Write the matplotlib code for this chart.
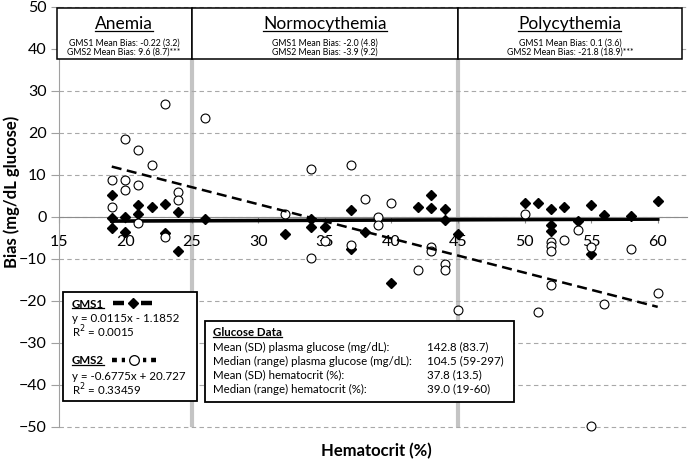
import numpy as np
import matplotlib
matplotlib.use('Agg')
import matplotlib.pyplot as plt
from matplotlib.patches import Rectangle
from matplotlib.lines import Line2D

plt.rcParams['font.family'] = ['Lato', 'DejaVu Sans']

# GMS1 (filled diamonds)
gms1_hct = [19, 19, 19, 20, 20, 21, 21, 22, 23, 23, 24, 24, 26,
            32, 34, 34, 35, 37, 37, 38, 40, 42, 43, 43, 44, 44, 45,
            50, 51, 52, 52, 52, 53, 54, 55, 55, 56, 58, 60]
gms1_bias = [5.2, -0.2, -2.7, 0.1, -3.5, 2.9, 0.7, 2.5, 3.0, -3.9, 1.1, -8.0, -0.5,
             -4.1, -0.5, -2.3, -2.3, 1.6, -7.7, -3.5, -15.8, 2.5, 5.2, 2.1, 1.8, -0.7, -4.0,
             3.4, 3.4, 1.8, -1.9, -3.3, 2.5, -0.9, 2.9, -8.8, 0.5, 0.3, 3.8]

# GMS2 (open circles)
gms2_hct = [19, 19, 20, 20, 20, 21, 21, 21, 22, 23, 23, 24, 24, 26,
            32, 34, 34, 35, 37, 37, 38, 39, 39, 40, 42, 43, 43, 44, 44, 45,
            50, 51, 52, 52, 52, 52, 53, 54, 55, 55, 56, 58, 60]
gms2_bias = [8.8, 2.5, 18.6, 8.8, 6.4, 16.0, 7.6, -1.5, 12.4, 27.0, -4.8, 6.0, 4.0, 23.5,
             0.7, 11.4, -9.8, -5.8, 12.4, -6.7, 4.4, 0.1, -1.9, 3.4, -12.5, -7.1, -8.0, -11.3, -12.5, -22.2,
             0.6, -22.5, -5.9, -6.9, -8.0, -16.2, -5.5, -3.1, -7.1, -49.8, -20.7, -7.6, -18.0]

# trend lines as drawn
trend_x = [19, 60]
gms1_trend = [0.0115 * 19 - 1.1852, 0.0115 * 60 - 1.1852]
gms2_trend = [12.0, -21.4]

# groups
groups = ['Anemia', 'Normocythemia', 'Polycythemia']
group_edges = [14.85, 25, 45, 61.8]
gms1_mean = ['-0.22 (3.2)', '-2.0 (4.8)', '0.1 (3.6)']
gms2_mean = ['9.6 (8.7)***', '-3.9 (9.2)', '-21.8 (18.9)***']

glucose_labels = ['Mean (SD) plasma glucose (mg/dL):',
                  'Median (range) plasma glucose (mg/dL):',
                  'Mean (SD) hematocrit (%):',
                  'Median (range) hematocrit (%):']
glucose_values = ['142.8 (83.7)', '104.5 (59-297)', '37.8 (13.5)', '39.0 (19-60)']

W, H = 690, 463
fig = plt.figure(figsize=(6.9, 4.63), dpi=100)
ax = fig.add_axes([58.5 / W, 1 - 429.1 / H, (687 - 58.5) / W, (429.1 - 4.9) / H])
ax.set_xlim(15, 62.2)
ax.set_ylim(-50.5, 50.5)


def px(x, y):
    return x / W, 1 - y / H


# axes styling
for s in ['top', 'right']:
    ax.spines[s].set_visible(False)
ax.spines['left'].set_color('#a0a0a0')
ax.spines['left'].set_bounds(-50, 50)
ax.spines['bottom'].set_position(('data', 0))
ax.spines['bottom'].set_color('#8c8c8c')
ax.set_yticks(np.arange(-50, 51, 10))
ax.set_xticks(np.arange(15, 61, 5))
ax.tick_params(axis='y', colors='#a0a0a0', labelcolor='black', labelsize=11.5, length=5.5, pad=3)
ax.tick_params(axis='x', colors='#8c8c8c', labelcolor='black', labelsize=11.5, length=4, pad=9)
for t in ax.get_xticklabels():
    t.set_zorder(4)
ax.grid(axis='y', color='#a8a8a8', ls=(0, (4, 3)), lw=0.8, zorder=0.5)

# grey boundaries
for xv in group_edges[1:3]:
    ax.plot([xv, xv], [-49.5, 37.6], color='#c4c4c4', lw=3, zorder=1)

# trend lines
ax.plot(trend_x, gms1_trend, color='black', lw=2.6, zorder=2)
ax.plot(gms1_hct, gms1_bias, 'D', color='black', ms=4.6, zorder=3, clip_on=False)
ax.plot(gms2_hct, gms2_bias, 'o', mfc='white', mec='black', mew=0.8, ms=6.4, zorder=3, clip_on=False)
ax.plot(trend_x, gms2_trend, color='black', lw=1.8, ls=(0, (4, 2.2)), zorder=3.5)

# top group boxes
underline_items = []
for i, g in enumerate(groups):
    x0, x1 = group_edges[i], group_edges[i + 1]
    ax.add_patch(Rectangle((x0, 37.6), x1 - x0, 12.2, facecolor='white', edgecolor='black',
                           lw=1.1, zorder=5, clip_on=False))
    xc = (x0 + x1) / 2
    t = ax.text(xc, 45.9, g, ha='center', va='center', fontsize=12.5, zorder=6)
    underline_items.append(t)
    ax.text(xc, 41.5, 'GMS1 Mean Bias: ' + gms1_mean[i], ha='center', va='center', fontsize=6.3, zorder=6)
    ax.text(xc, 39.3, 'GMS2 Mean Bias: ' + gms2_mean[i], ha='center', va='center', fontsize=6.3, zorder=6)

# regression legend box
fig.add_artist(Rectangle(px(63, 401), 134 / W, 109 / H, transform=fig.transFigure,
                         facecolor='white', edgecolor='black', lw=1.3, zorder=5))
t = fig.text(*px(72, 304), 'GMS1', fontsize=8.3, weight='bold', va='center', zorder=6)
underline_items.append(t)
fig.text(*px(72, 318), 'y = 0.0115x - 1.1852', fontsize=8.3, va='center', zorder=6)
fig.text(*px(72, 332), 'R$^2$ = 0.0015', fontsize=8.3, va='center', zorder=6)
t = fig.text(*px(72, 361), 'GMS2', fontsize=8.3, weight='bold', va='center', zorder=6)
underline_items.append(t)
fig.text(*px(72, 376), 'y = -0.6775x + 20.727', fontsize=8.3, va='center', zorder=6)
fig.text(*px(72, 390), 'R$^2$ = 0.33459', fontsize=8.3, va='center', zorder=6)

for seg in [(113, 124), (141, 152)]:
    fig.add_artist(Line2D([seg[0] / W, seg[1] / W], [1 - 303 / H] * 2, color='black', lw=3.2,
                          solid_capstyle='butt', zorder=6))
fig.add_artist(Line2D([133 / W], [1 - 303 / H], marker='D', color='black', ms=5.5, zorder=7))
fig.add_artist(Line2D([112 / W, 156 / W], [1 - 360 / H] * 2, color='black', lw=3.2,
                      ls=(0, (1.1, 1.1)), zorder=6))
fig.add_artist(Line2D([134 / W], [1 - 360 / H], marker='o', mfc='white', mec='black', mew=0.9,
                      ms=7, ls='none', zorder=7))
fig.add_artist(Rectangle(px(125, 366), 18 / W, 12 / H, transform=fig.transFigure,
                         facecolor='white', edgecolor='none', zorder=6.5))

# glucose data box
fig.add_artist(Rectangle(px(205, 402), 309 / W, 81 / H, transform=fig.transFigure,
                         facecolor='white', edgecolor='black', lw=1.3, zorder=5))
t = fig.text(*px(213, 333), 'Glucose Data', fontsize=8.3, weight='bold', va='center', zorder=6)
underline_items.append(t)
for k in range(len(glucose_labels)):
    yy = 347 + 14 * k
    fig.text(*px(213, yy), glucose_labels[k], fontsize=8.3, va='center', zorder=6)
    fig.text(*px(427, yy), glucose_values[k], fontsize=8.3, va='center', zorder=6)

# axis labels
fig.text(*px(12, 192), 'Bias (mg/dL glucose)', rotation=90, ha='center', va='center',
         fontsize=12, weight='bold')
fig.text(*px(376, 451), 'Hematocrit (%)', ha='center', va='center', fontsize=12, weight='bold')

# underline the headings
fig.canvas.draw()
inv = fig.transFigure.inverted()
for t in underline_items:
    bb = t.get_window_extent()
    (x0, y0), (x1, _) = inv.transform([(bb.x0, bb.y0 + 1.5), (bb.x1, bb.y0)])
    fig.add_artist(Line2D([x0, x1], [y0, y0], color='black', lw=0.9, zorder=7))

fig.savefig('out.png', dpi=100, facecolor='white')
